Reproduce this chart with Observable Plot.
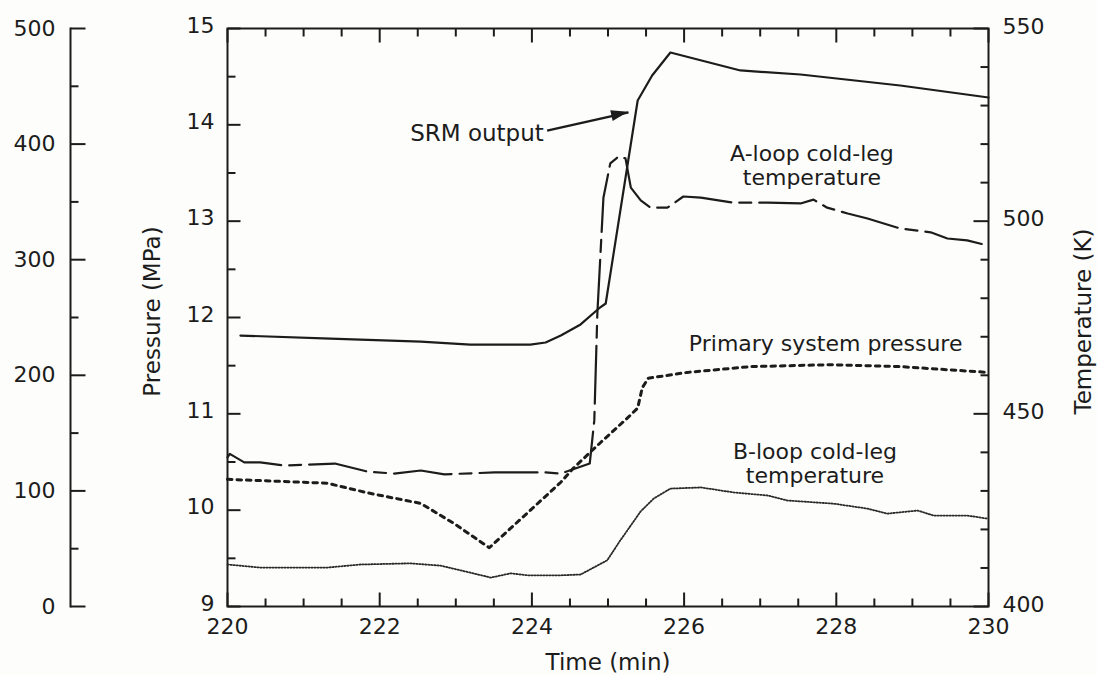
<!DOCTYPE html>
<html><head><meta charset="utf-8">
<script src="https://cdn.jsdelivr.net/npm/d3@7"></script>
<script src="https://cdn.jsdelivr.net/npm/@observablehq/plot@0.6"></script>
<style>
html,body{margin:0;padding:0;background:#fdfdfb;}
#chart svg{display:block;}
</style></head><body><div id="chart"></div>
<script>
// ---- data ----
// SRM output (outer left scale, 0-500)
const srmTime   = [220.17, 221.35, 222.54, 223.19, 223.98, 224.18, 224.38, 224.64, 224.88, 224.97, 225.39, 225.58, 225.82, 226.74, 227.53, 228.84, 230.0];
const srmCounts = [234.4, 231.8, 229.2, 226.6, 226.6, 228.4, 234.4, 244.0, 257.8, 262.1, 437.7, 459.3, 479.2, 463.7, 460.2, 450.7, 440.3];
// Primary system pressure (MPa)
const pressTime = [220.0, 221.31, 221.84, 222.54, 222.98, 223.44, 223.94, 224.38, 224.55, 224.90, 225.26, 225.39, 225.45, 225.53, 226.04, 226.87, 227.92, 228.84, 230.0];
const pressMPa  = [10.32, 10.28, 10.18, 10.07, 9.86, 9.61, 9.97, 10.29, 10.44, 10.70, 10.96, 11.06, 11.27, 11.37, 11.43, 11.49, 11.51, 11.49, 11.43];
// A-loop cold-leg temperature (K)
const aTime  = [220.0, 220.03, 220.22, 220.43, 220.75, 221.41, 221.84, 222.19, 222.54, 222.85, 223.51, 224.17, 224.38, 224.76, 224.82, 224.86, 224.94, 225.03, 225.14, 225.23, 225.30, 225.43, 225.56, 225.78, 225.99, 226.22, 226.65, 227.10, 227.53, 227.70, 227.88, 228.15, 228.41, 228.84, 229.24, 229.46, 229.72, 229.99];
const aTempK = [438.7, 439.6, 437.4, 437.4, 436.6, 437.1, 435.0, 434.5, 435.3, 434.3, 434.8, 434.8, 434.5, 437.1, 448.3, 476.0, 506.1, 515.0, 516.8, 516.3, 508.7, 505.4, 503.5, 503.5, 506.4, 506.1, 504.8, 504.8, 504.6, 505.6, 503.5, 502.0, 500.7, 498.1, 497.1, 495.5, 495.0, 493.7];
// B-loop cold-leg temperature (K)
const bTime  = [220.0, 220.43, 221.31, 221.75, 222.40, 222.80, 223.06, 223.46, 223.72, 223.94, 224.38, 224.64, 224.99, 225.16, 225.43, 225.60, 225.82, 226.22, 226.65, 227.10, 227.36, 227.96, 228.41, 228.67, 229.07, 229.28, 229.72, 229.99];
const bTempK = [410.9, 410.1, 410.1, 410.9, 411.2, 410.6, 409.4, 407.5, 408.6, 408.1, 408.1, 408.3, 412.0, 417.1, 424.7, 428.0, 430.6, 430.9, 429.6, 428.8, 427.5, 426.7, 425.4, 424.1, 424.9, 423.6, 423.6, 422.8];

// tick values
const xTicks = [220, 222, 224, 226, 228, 230];
const xMinor = [220.5, 221, 221.5, 222.5, 223, 223.5, 224.5, 225, 225.5, 226.5, 227, 227.5, 228.5, 229, 229.5];
const pressureTicks = [9, 10, 11, 12, 13, 14, 15];
const pressureMinor = [9.5, 10.5, 11.5, 12.5, 13.5, 14.5];
const tempTicks = [400, 450, 500, 550];
const tempMinor = [410, 420, 430, 440, 460, 470, 480, 490, 510, 520, 530, 540];
const srmTicks = [0, 100, 200, 300, 400, 500];
const srmMinor = [50, 150, 250, 350, 450];

// annotations
const srmLabel = [{t: 222.40, p: 13.91, text: "SRM output"}];
const labels = [
  {t: 227.68, p: 13.58, text: "A-loop cold-leg\ntemperature"},
  {t: 227.86, p: 11.73, text: "Primary system pressure"},
  {t: 227.72, p: 10.49, text: "B-loop cold-leg\ntemperature"}
];
const arrows = [{t1: 224.20, p1: 13.94, t2: 225.27, p2: 14.13}];

// ---- mapping secondary scales onto the pressure (y) scale ----
const tempToP = T => 9 + (T - 400) / 25;
const pToTemp = p => String(Math.round(400 + (p - 9) * 25));
const srmToP = S => 9 + S * 6 / 500;
const pToSrm = p => String(Math.round((p - 9) * 500 / 6));

const ink = "#1c1c1c";
const font = "'DejaVu Sans', sans-serif";
const sw = 2;
const tickFont = 22;
const labelFont = 23;

const srmData = srmTime.map((t, i) => ({t, v: srmToP(srmCounts[i])}));
const pressData = pressTime.map((t, i) => ({t, v: pressMPa[i]}));
const aData = aTime.map((t, i) => ({t, v: tempToP(aTempK[i])}));
const bData = bTime.map((t, i) => ({t, v: tempToP(bTempK[i])}));

const outerDx = -157;

// inward tick marks drawn with vectors
const tickShape = {draw(ctx, l) { ctx.moveTo(0, 0); ctx.lineTo(0, -l); }};
function ticks(values, channel, frameAnchor, rotate, length, extra = {}) {
  return Plot.vector(values, {[channel]: d => d, frameAnchor, rotate, length, anchor: "start",
    shape: tickShape, stroke: ink, strokeWidth: sw, strokeLinecap: "butt", ...extra});
}

// filled arrowhead drawn with the plot's scales
function arrowHead(index, scales) {
  const ns = "http://www.w3.org/2000/svg";
  const g = document.createElementNS(ns, "g");
  for (const a of arrows) {
    const x1 = scales.x(a.t1), y1 = scales.y(a.p1), x2 = scales.x(a.t2), y2 = scales.y(a.p2);
    const ang = Math.atan2(y2 - y1, x2 - x1);
    const L = 17, W = 5.5;
    const bx = x2 - L * Math.cos(ang), by = y2 - L * Math.sin(ang);
    const px = -Math.sin(ang) * W, py = Math.cos(ang) * W;
    const p = document.createElementNS(ns, "path");
    p.setAttribute("d", `M${x2},${y2}L${bx + px},${by + py}L${bx - px},${by - py}Z`);
    p.setAttribute("fill", ink);
    g.appendChild(p);
  }
  return g;
}

const chart = Plot.plot({
  width: 1097, height: 675,
  marginLeft: 227, marginRight: 109, marginTop: 28, marginBottom: 69,
  style: {fontFamily: font, fontSize: tickFont + "px", color: ink, background: "transparent", overflow: "visible"},
  x: {domain: [220, 230], label: null},
  y: {domain: [9, 15], label: null},
  marks: [
    Plot.frame({stroke: ink, strokeWidth: sw}),
    // x axis: labels below, inward ticks on bottom and top
    Plot.axisX(xTicks, {anchor: "bottom", tickSize: 0, tickPadding: 12, fontSize: tickFont, label: null}),
    ticks(xTicks, "x", "bottom", 0, 14),
    ticks(xMinor, "x", "bottom", 0, 8),
    ticks(xTicks, "x", "top", 180, 14),
    ticks(xMinor, "x", "top", 180, 8),
    // pressure axis (left edge of frame)
    Plot.axisY(pressureTicks, {anchor: "left", tickSize: 0, tickPadding: 13, dy: -3, fontSize: tickFont, tickFormat: d => String(d), label: null}),
    ticks(pressureTicks, "y", "left", 90, 13),
    ticks(pressureMinor, "y", "left", 90, 8),
    // temperature axis (right edge of frame)
    Plot.axisY(tempTicks.map(tempToP), {anchor: "right", tickSize: 0, tickPadding: 14, dy: -2, fontSize: tickFont, tickFormat: pToTemp, label: null}),
    ticks(tempTicks.map(tempToP), "y", "right", -90, 15),
    ticks(tempMinor.map(tempToP), "y", "right", -90, 8),
    // SRM outer axis
    Plot.frame({anchor: "left", dx: outerDx, stroke: ink, strokeWidth: sw}),
    Plot.axisY(srmTicks.map(srmToP), {anchor: "left", dx: outerDx, tickSize: 0, tickPadding: 15, fontSize: tickFont, tickFormat: pToSrm, label: null}),
    ticks(srmTicks.map(srmToP), "y", "left", 90, 15, {dx: outerDx}),
    ticks(srmMinor.map(srmToP), "y", "left", 90, 8, {dx: outerDx}),
    // axis titles
    Plot.text(["Pressure (MPa)"], {frameAnchor: "left", textAnchor: "middle", lineAnchor: "middle", rotate: -90, dx: -75, dy: -6, text: d => d, fontSize: labelFont, fill: ink}),
    Plot.text(["Temperature (K)"], {frameAnchor: "right", textAnchor: "middle", lineAnchor: "middle", rotate: -90, dx: 95, dy: 4, text: d => d, fontSize: labelFont, fill: ink}),
    Plot.text(["Time (min)"], {frameAnchor: "bottom", textAnchor: "middle", lineAnchor: "middle", dy: 56, text: d => d, fontSize: labelFont, fill: ink}),
    // series
    Plot.line(bData, {x: "t", y: "v", stroke: "#2a2a2a", strokeWidth: 1.8, strokeDasharray: "1.3,1.7"}),
    Plot.line(pressData, {x: "t", y: "v", stroke: ink, strokeWidth: 3, strokeDasharray: "4.5,5"}),
    Plot.line(aData, {x: "t", y: "v", stroke: ink, strokeWidth: 2.2, strokeDasharray: "58,8,12,8"}),
    Plot.line(srmData, {x: "t", y: "v", stroke: ink, strokeWidth: 2.2}),
    // annotations
    Plot.link(arrows, {x1: "t1", y1: "p1", x2: "t2", y2: "p2", stroke: ink, strokeWidth: 2.4}),
    arrowHead,
    Plot.text(srmLabel, {x: "t", y: "p", text: "text", textAnchor: "start", fontSize: labelFont, fill: ink}),
    Plot.text(labels, {x: "t", y: "p", text: "text", textAnchor: "middle", fontSize: 22, lineHeight: 1.12, fill: ink})
  ]
});
document.getElementById("chart").appendChild(chart);
</script>
</body></html>
